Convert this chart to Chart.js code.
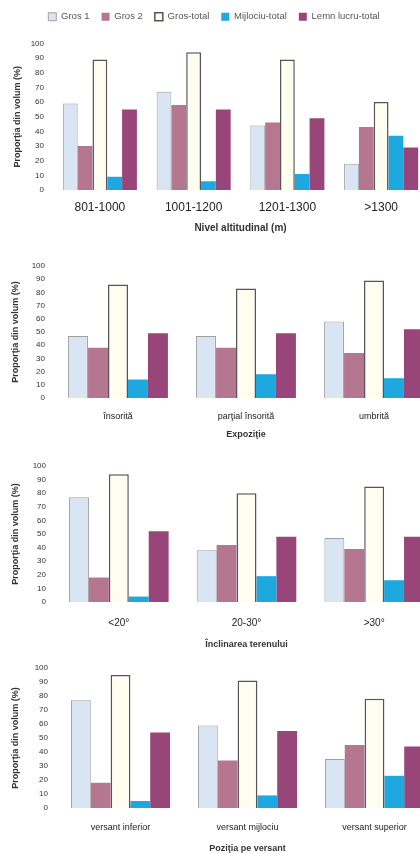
<!DOCTYPE html>
<html>
<head>
<meta charset="utf-8">
<script src="https://cdn.jsdelivr.net/npm/chart.js@4"></script>
<style>
  html, body { margin: 0; padding: 0; background: #fff; }
  body { width: 420px; height: 854px; overflow: hidden; position: relative; }
  canvas { position: absolute; left: 0; }
</style>
</head>
<body>
<canvas id="altChart" width="430" height="236" style="top:0px"></canvas>
<canvas id="expChart" width="440" height="192" style="top:250px"></canvas>
<canvas id="slopeChart" width="440" height="200" style="top:452px"></canvas>
<canvas id="posChart" width="440" height="200" style="top:654px"></canvas>
<script>
// ── Data ────────────────────────────────────────────
const seriesNames = ['Gros 1', 'Gros 2', 'Gros-total', 'Mijlociu-total', 'Lemn lucru-total'];
const yTicks = [0, 10, 20, 30, 40, 50, 60, 70, 80, 90, 100];

const altCats       = ['801-1000', '1001-1200', '1201-1300', '>1300'];
const altGros1      = [59, 67, 44, 18];
const altGros2      = [30, 58, 46, 43];
const altGrosTotal  = [89, 94, 89, 60];
const altMijlociu   = [9, 6, 11, 37];
const altLemn       = [55, 55, 49, 29];

const expCats       = ['însorită', 'parţial însorită', 'umbrită'];
const expGros1      = [47, 47, 58];
const expGros2      = [38, 38, 34];
const expGrosTotal  = [86, 83, 89];
const expMijlociu   = [14, 18, 15];
const expLemn       = [49, 49, 52];

const slopeCats      = ['<20°', '20-30°', '>30°'];
const slopeGros1     = [77, 38, 47];
const slopeGros2     = [18, 42, 39];
const slopeGrosTotal = [94, 80, 85];
const slopeMijlociu  = [4, 19, 16];
const slopeLemn      = [52, 48, 48];

const posCats       = ['versant inferior', 'versant mijlociu', 'versant superior'];
const posGros1      = [77, 59, 35];
const posGros2      = [18, 34, 45];
const posGrosTotal  = [95, 91, 78];
const posMijlociu   = [5, 9, 23];
const posLemn       = [54, 55, 44];

// ── Styles ──────────────────────────────────────────
Chart.defaults.font.family = "'Liberation Sans', Arial, sans-serif";
Chart.defaults.color = '#444';

const SERIES_STYLE = [
  { bg: '#dae5f3', border: '#a0a0a0', width: 1 },
  { bg: '#b5768f', border: '#6b4a58', width: 0 },
  { bg: '#fffdf0', border: '#555555', width: 1.5 },
  { bg: '#1ea8e0', border: '#1ea8e0', width: 0 },
  { bg: '#98457a', border: '#5e2d4c', width: 0 },
];

// extra space under the legend
const legendGap = {
  id: 'legendGap',
  beforeInit(chart) {
    if (!chart.legend) return;
    const fit = chart.legend.fit;
    chart.legend.fit = function () {
      fit.call(this);
      this.height += 12;
    };
  },
};

function makeChart(id, cats, values, xTitle, opt) {
  const ctx = document.getElementById(id);
  return new Chart(ctx, {
    type: 'bar',
    data: {
      labels: cats,
      datasets: values.map((v, i) => ({
        label: seriesNames[i],
        data: v,
        backgroundColor: SERIES_STYLE[i].bg,
        borderColor: SERIES_STYLE[i].border,
        borderWidth: SERIES_STYLE[i].width,
        categoryPercentage: opt.catPct,
        barPercentage: 1,
      })),
    },
    plugins: opt.legend ? [legendGap] : [],
    options: {
      responsive: false,
      animation: false,
      layout: { padding: { top: opt.padTop, bottom: opt.padBottom, left: 0, right: 2 } },
      plugins: {
        legend: {
          display: !!opt.legend,
          labels: { boxWidth: 8, boxHeight: 8, padding: 12, font: { size: 9.5 }, color: '#555' },
        },
        tooltip: { enabled: false },
      },
      scales: {
        x: {
          grid: { display: false, drawTicks: false },
          border: { display: false },
          ticks: { padding: opt.xPad, color: '#222', font: { size: opt.xFont }, maxRotation: 0, autoSkip: false },
          title: {
            display: true,
            text: xTitle,
            color: '#333',
            font: { size: opt.titleFont, weight: 'bold' },
            padding: { top: 0, bottom: 0 },
          },
          afterFit: (s) => { s.height = opt.xHeight; },
        },
        y: {
          min: 0,
          max: 100,
          afterBuildTicks: (s) => { s.ticks = yTicks.map(v => ({ value: v })); },
          grid: { display: false, drawTicks: false },
          border: { display: false },
          ticks: { padding: 9, color: '#333', font: { size: 8 } },
          title: {
            display: true,
            text: 'Proporţia din volum (%)',
            color: '#333',
            font: { size: 9, weight: 'bold' },
            padding: { top: opt.yTitlePad, bottom: 0 },
          },
          afterFit: (s) => { s.width = opt.yWidth; },
        },
      },
    },
  });
}

makeChart('altChart', altCats,
  [altGros1, altGros2, altGrosTotal, altMijlociu, altLemn],
  'Nivel altitudinal (m)',
  { legend: true, catPct: 0.79, padTop: 0, padBottom: 2, xPad: 10, xFont: 12, titleFont: 10, xHeight: 44, yWidth: 53, yTitlePad: 12 });

makeChart('expChart', expCats,
  [expGros1, expGros2, expGrosTotal, expMijlociu, expLemn],
  'Expoziţie',
  { catPct: 0.78, padTop: 16, padBottom: 2, xPad: 13, xFont: 9, titleFont: 9, xHeight: 42, yWidth: 54, yTitlePad: 10 });

makeChart('slopeChart', slopeCats,
  [slopeGros1, slopeGros2, slopeGrosTotal, slopeMijlociu, slopeLemn],
  'Înclinarea terenului',
  { catPct: 0.78, padTop: 14, padBottom: 2, xPad: 15, xFont: 10, titleFont: 9, xHeight: 48, yWidth: 55, yTitlePad: 10 });

makeChart('posChart', posCats,
  [posGros1, posGros2, posGrosTotal, posMijlociu, posLemn],
  'Poziţia pe versant',
  { catPct: 0.78, padTop: 14, padBottom: 0, xPad: 14, xFont: 9, titleFont: 9, xHeight: 46, yWidth: 57, yTitlePad: 10 });
</script>
</body>
</html>
